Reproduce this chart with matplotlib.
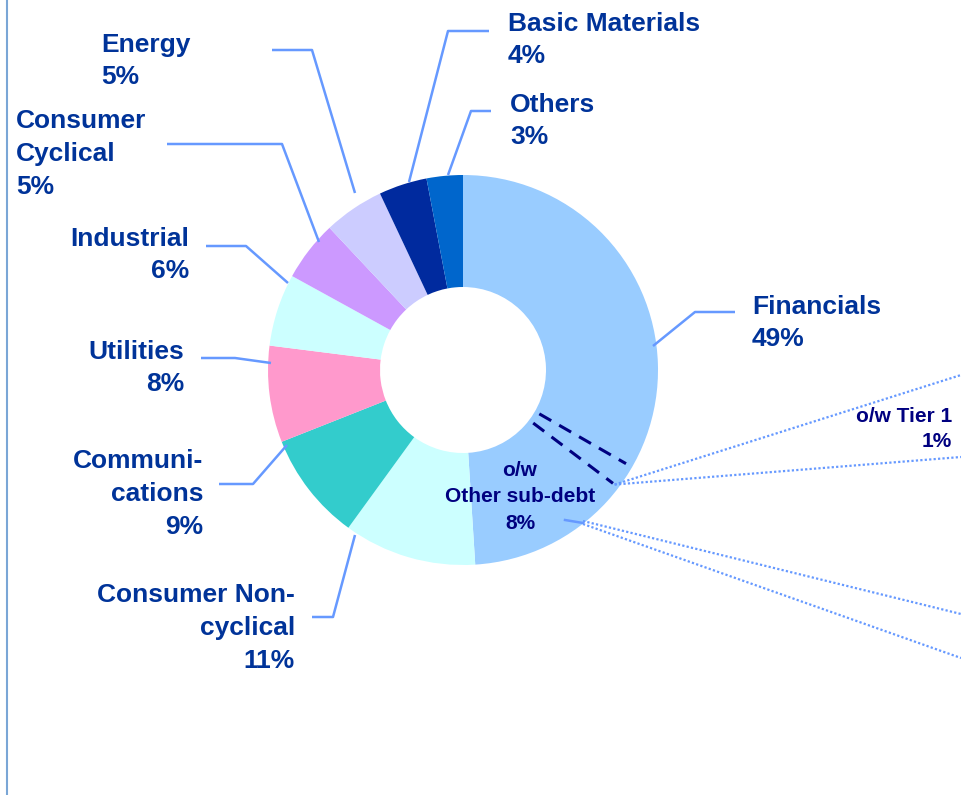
import numpy as np
import matplotlib.pyplot as plt

# sector split, clockwise from 12 o'clock
sectors = ["Financials", "Consumer Non-\ncyclical", "Communi-\ncations", "Utilities",
           "Industrial", "Consumer\nCyclical", "Energy", "Basic Materials", "Others"]
shares = [49, 11, 9, 8, 6, 5, 5, 4, 3]
colors = ["#99ccff", "#ccffff", "#33cccc", "#ff99cc", "#ccffff",
          "#cc99ff", "#ccccff", "#002a9e", "#0066cc"]

# financials breakdown (position along the ring, % of circle)
sub_lines = [33.3, 35.3]
sub_labels = ["o/w Tier 1\n1%", "o/w\nOther sub-debt\n8%"]

# layout in pixels (y down): leader start, elbow, end, text pos, alignment
cx, cy, R, r_in = 463, 370, 195, 83
leaders = [
    ((653, 346), (695, 312), (735, 312), (752, 323), "left"),
    ((355, 535), (333, 617), (312, 617), (295, 628), "right"),
    ((287, 445), (253, 484), (219, 484), (203, 494), "right"),
    ((271, 363), (235, 358), (201, 358), (184, 368), "right"),
    ((288, 283), (246, 246), (206, 246), (189, 255), "right"),
    ((319, 242), (282, 144), (167, 144), (16, 154), "left"),
    ((355, 193), (312, 50), (272, 50), (101, 61), "left"),
    ((409, 182), (448, 31), (489, 31), (508, 40), "left"),
    ((448, 175), (471, 111), (491, 111), (510, 121), "left"),
]

fig = plt.figure(figsize=(9.61, 7.95), dpi=100)
ax = fig.add_axes([0, 0, 1, 1])

ax.pie(shares, colors=colors, startangle=-90, counterclock=True, radius=R,
       center=(cx, cy), wedgeprops=dict(width=R - r_in, linewidth=0))
ax.set_xlim(0, 961)
ax.set_ylim(795, 0)
ax.set_aspect("equal")
ax.axis("off")

lab_col = "#003399"
lead_col = "#6699ff"
for name, val, (p0, p1, p2, tpos, ha) in zip(sectors, shares, leaders):
    ax.plot([p0[0], p1[0], p2[0]], [p0[1], p1[1], p2[1]], color=lead_col, lw=1.8,
            solid_capstyle="butt")
    ax.text(tpos[0], tpos[1], f"{name}\n{val}%", ha=ha, va="center", multialignment=ha,
            fontsize=19, fontweight="bold", color=lab_col, family="Liberation Sans",
            linespacing=1.45)

# dashed split lines inside Financials
for p in sub_lines:
    th = np.radians(-90 + 3.6 * p)
    ax.plot([cx + 88 * np.cos(th), cx + 188 * np.cos(th)],
            [cy + 88 * np.sin(th), cy + 188 * np.sin(th)],
            color="#000080", lw=2.2, linestyle=(0, (4.5, 3)))

# dotted connectors to the (cropped) breakdown on the right
th = np.radians(-90 + 3.6 * sub_lines[1])
sx, sy = cx + 190 * np.cos(th), cy + 190 * np.sin(th)
for ye in [375, 457]:
    ax.plot([sx, 961], [sy, ye], color=lead_col, lw=1.6, linestyle=(0, (1, 1)))
ax.plot([565, 583], [520, 523], color=lead_col, lw=1.8)
for y0, ye in [(521, 614), (524, 658)]:
    ax.plot([583, 961], [y0, ye], color=lead_col, lw=1.6, linestyle=(0, (1, 1)))

ax.text(952, 429, sub_labels[0], ha="right", va="center", multialignment="right",
        fontsize=15, fontweight="bold", color="#000080", family="Liberation Sans",
        linespacing=1.4)
ax.text(520, 497, sub_labels[1], ha="center", va="center", multialignment="center",
        fontsize=15, fontweight="bold", color="#000080", family="Liberation Sans",
        linespacing=1.5)

ax.axvline(7, color="#7aa6d6", lw=1.5)

fig.savefig("out.png", dpi=100)
